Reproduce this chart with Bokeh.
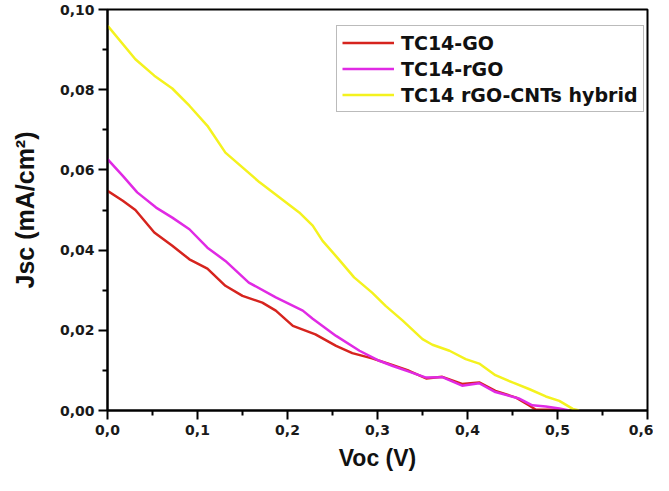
from bokeh.plotting import figure
from bokeh.models import Range1d, FixedTicker, Legend, LegendItem
from bokeh.embed import file_html
from bokeh.resources import INLINE

# ---- data ----
go_x = [0.0, 0.017, 0.031, 0.052, 0.072, 0.091, 0.111, 0.131, 0.150, 0.172, 0.187,
        0.206, 0.231, 0.254, 0.272, 0.294, 0.313, 0.335, 0.354, 0.372, 0.394, 0.413,
        0.431, 0.454, 0.469, 0.476, 0.502]
go_y = [0.0548, 0.0523, 0.0500, 0.0444, 0.0411, 0.0377, 0.0354, 0.0311, 0.0286, 0.0269, 0.0249,
        0.0211, 0.0190, 0.0161, 0.0143, 0.0130, 0.0116, 0.0099, 0.0080, 0.0084, 0.0066, 0.0070,
        0.0049, 0.0032, 0.0012, 0.0002, 0.0002]

rgo_x = [0.0, 0.017, 0.033, 0.054, 0.072, 0.091, 0.111, 0.131, 0.157, 0.187, 0.217,
         0.228, 0.254, 0.280, 0.302, 0.317, 0.335, 0.354, 0.372, 0.394, 0.413, 0.431,
         0.457, 0.472, 0.487, 0.502, 0.513]
rgo_y = [0.0627, 0.0585, 0.0544, 0.0506, 0.0481, 0.0452, 0.0406, 0.0373, 0.0319, 0.0282, 0.0249,
         0.0229, 0.0186, 0.0149, 0.0124, 0.0111, 0.0097, 0.0082, 0.0083, 0.0062, 0.0068, 0.0046,
         0.0030, 0.0013, 0.0010, 0.0005, 0.0000]

hyb_x = [0.0, 0.031, 0.052, 0.072, 0.091, 0.111, 0.131, 0.169, 0.213, 0.228, 0.239,
         0.257, 0.274, 0.294, 0.309, 0.328, 0.350, 0.361, 0.380, 0.398, 0.413, 0.431,
         0.450, 0.469, 0.487, 0.502, 0.517, 0.524]
hyb_y = [0.0960, 0.0876, 0.0835, 0.0803, 0.0760, 0.0710, 0.0643, 0.0569, 0.0494, 0.0461, 0.0423,
         0.0377, 0.0332, 0.0294, 0.0261, 0.0224, 0.0178, 0.0164, 0.0149, 0.0128, 0.0117, 0.0088,
         0.0070, 0.0053, 0.0035, 0.0024, 0.0004, 0.0000]

series_names = ["TC14-GO", "TC14-rGO", "TC14 rGO-CNTs hybrid"]
series_colors = ["#d6241e", "#e02ae4", "#f4f21e"]

x_ticks = [0.0, 0.1, 0.2, 0.3, 0.4, 0.5, 0.6]
x_labels = ["0,0", "0,1", "0,2", "0,3", "0,4", "0,5", "0,6"]
x_minor = [0.05, 0.15, 0.25, 0.35, 0.45, 0.55]
y_ticks = [0.0, 0.02, 0.04, 0.06, 0.08, 0.10]
y_labels = ["0,00", "0,02", "0,04", "0,06", "0,08", "0,10"]
y_minor = [0.01, 0.03, 0.05, 0.07, 0.09]

FONT = "DejaVu Sans"
TITLE_FONT = "Liberation Sans"

p = figure(width=653, height=475, output_backend="svg", toolbar_location=None,
           x_range=Range1d(0, 0.6), y_range=Range1d(0, 0.1),
           min_border_left=107, min_border_right=6, min_border_top=9, min_border_bottom=65)
p.grid.visible = False
p.outline_line_color = "black"
p.outline_line_width = 2
p.background_fill_color = "white"
p.border_fill_color = "white"

renderers = []
for xs, ys, c in zip([go_x, rgo_x, hyb_x], [go_y, rgo_y, hyb_y], series_colors):
    r = p.line(xs, ys, line_color=c, line_width=2.5)
    renderers.append(r)

for ax, ticks, labels, minor in [(p.xaxis[0], x_ticks, x_labels, x_minor),
                                 (p.yaxis[0], y_ticks, y_labels, y_minor)]:
    ax.ticker = FixedTicker(ticks=ticks, minor_ticks=minor)
    ax.major_label_overrides = {t: l for t, l in zip(ticks, labels)}
    ax.axis_line_width = 2
    ax.major_tick_line_width = 2
    ax.minor_tick_line_width = 2
    ax.major_tick_out = 9
    ax.major_tick_in = 0
    ax.minor_tick_out = 5
    ax.minor_tick_in = 0
    ax.major_label_text_font = FONT
    ax.major_label_text_font_style = "bold"
    ax.major_label_text_font_size = "14px"
    ax.major_label_text_color = "#1a1a1a"
    ax.axis_label_text_font = TITLE_FONT
    ax.axis_label_text_font_style = "bold"
    ax.axis_label_text_color = "#111111"

p.xaxis.axis_label = "Voc (V)"
p.yaxis.axis_label = "Jsc (mA/cm²)"
p.xaxis.axis_label_text_font_size = "23px"
p.yaxis.axis_label_text_font_size = "25px"
p.xaxis.major_label_standoff = 5
p.xaxis.axis_label_standoff = 7
p.yaxis.major_label_standoff = 4
p.yaxis.axis_label_standoff = 18

legend = Legend(items=[LegendItem(label=n, renderers=[r]) for n, r in zip(series_names, renderers)],
                location=(229, 298))
legend.label_text_font = FONT
legend.label_text_font_style = "bold"
legend.label_text_font_size = "19px"
legend.label_text_color = "#111111"
legend.glyph_width = 52
legend.glyph_height = 23
legend.label_height = 23
legend.label_standoff = 7
legend.spacing = 3
legend.padding = 5
legend.margin = 0
legend.border_line_color = "#777777"
legend.border_line_width = 1
legend.background_fill_alpha = 1
p.add_layout(legend)

open("out.html", "w").write(file_html(p, INLINE))
